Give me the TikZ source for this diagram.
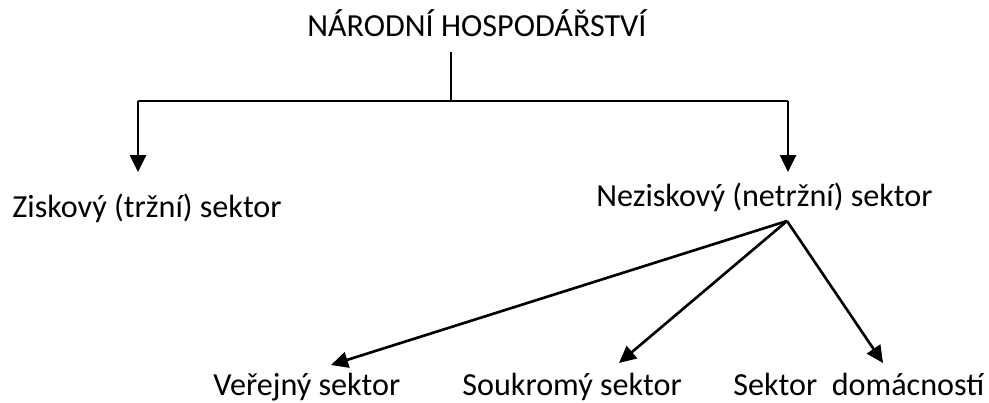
\documentclass[tikz,border=0pt]{standalone}
\usepackage{fontspec}
\setmainfont{Carlito}
\usetikzlibrary{positioning,arrows.meta}
\tikzset{sector/.style={anchor=base west, inner sep=0pt, font=\fontsize{18.3}{22}\selectfont},
  link/.style={line width=1.5pt},
  arrow/.style={link, -{Triangle[length=0.34cm,width=0.32cm]}}}

\begin{document}
\begin{tikzpicture}[x=0.02cm, y=-0.02cm]
	\useasboundingbox (0,0) rectangle (989,402);

	\node[sector] (nh)   at (307,37)  {NÁRODNÍ HOSPODÁŘSTVÍ};
	\node[sector] (zisk) at (12,217)  {Ziskový (tržní) sektor};
	\node[sector] (nezisk) at (596,206) {Neziskový (netržní) sektor};
	\node[sector] (verejny) at (213,395) {Veřejný sektor};
	\node[sector] (soukromy) at (462,395) {Soukromý sektor};
	\node[sector] (domacnosti) at (733,395) {Sektor\ \ domácností};

	\coordinate (stem) at (451,52);
	\coordinate (split) at (451,101);
	\coordinate (ziskTip) at (138,172);
	\coordinate (neziskTip) at (788,172);
	\coordinate (fan) at (787,221);
	\coordinate (verejnyTip) at (331,365);
	\coordinate (soukromyTip) at (619,363);
	\coordinate (domacnostiTip) at (883,363);

	\path[draw,link] (stem) -- (split) (ziskTip |- split) -- (neziskTip |- split);
	\path[draw,arrow] (ziskTip |- split) -- (ziskTip);
	\path[draw,arrow] (neziskTip |- split) -- (neziskTip);
	\path[draw,arrow] (fan) -- (verejnyTip);
	\path[draw,arrow] (fan) -- (soukromyTip);
	\path[draw,arrow] (fan) -- (domacnostiTip);
\end{tikzpicture}
\end{document}
